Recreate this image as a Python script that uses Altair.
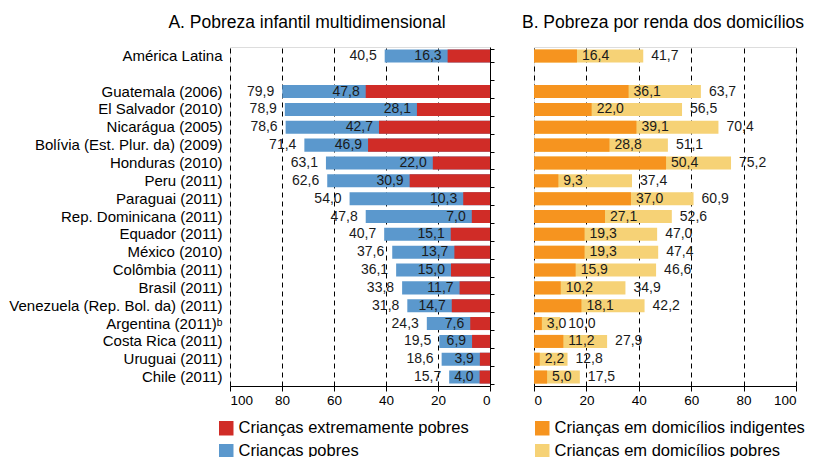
import altair as alt
import pandas as pd

FONT = "Liberation Sans"

countries = ["América Latina", "Guatemala (2006)", "El Salvador (2010)", "Nicarágua (2005)",
             "Bolívia (Est. Plur. da) (2009)", "Honduras (2010)", "Peru (2011)", "Paraguai (2011)",
             "Rep. Dominicana (2011)", "Equador (2011)", "México (2010)", "Colômbia (2011)",
             "Brasil (2011)", "Venezuela (Rep. Bol. da) (2011)", "Argentina (2011)\u1d47",
             "Costa Rica (2011)", "Uruguai (2011)", "Chile (2011)"]
order = [countries[0], " "] + countries[1:]

a_total = [40.5, 79.9, 78.9, 78.6, 71.4, 63.1, 62.6, 54.0, 47.8, 40.7, 37.6, 36.1, 33.8, 31.8, 24.3, 19.5, 18.6, 15.7]
a_extreme = [16.3, 47.8, 28.1, 42.7, 46.9, 22.0, 30.9, 10.3, 7.0, 15.1, 13.7, 15.0, 11.7, 14.7, 7.6, 6.9, 3.9, 4.0]
b_indig = [16.4, 36.1, 22.0, 39.1, 28.8, 50.4, 9.3, 37.0, 27.1, 19.3, 19.3, 15.9, 10.2, 18.1, 3.0, 11.2, 2.2, 5.0]
b_total = [41.7, 63.7, 56.5, 70.4, 51.1, 75.2, 37.4, 60.9, 52.6, 47.0, 47.4, 46.6, 34.9, 42.2, 10.0, 27.9, 12.8, 17.5]

ticks = [0, 20, 40, 60, 80, 100]

def fmt(v):
    return f"{v:.1f}".replace(".", ",")

dfA = pd.DataFrame({"pais": countries, "total": a_total, "ext": a_extreme})
dfA["tl"] = dfA["total"].map(fmt)
dfA["el"] = dfA["ext"].map(fmt)
dfB = pd.DataFrame({"pais": countries, "total": b_total, "ind": b_indig})
dfB["tl"] = dfB["total"].map(fmt)
dfB["il"] = dfB["ind"].map(fmt)

RED, BLUE, ORANGE, YELLOW = "#D02C27", "#5B98CD", "#F6941F", "#F6D276"

yscale = alt.Scale(domain=order, paddingInner=0.27, paddingOuter=0.135)

def xaxis():
    return alt.Axis(values=ticks, title=None, grid=True, gridDash=[5, 4], gridColor="#000000",
                    gridWidth=1, domainColor="#000000", tickColor="#000000", tickSize=5,
                    labelFont=FONT, labelFontSize=13.5, labelColor="#000000", labelPadding=2)

def yplain():
    return alt.Y("pais:N", sort=order, scale=yscale, axis=None, title=None)

W, H = 260, 339
LBL = 14
CLBL = 15

def legend(x):
    return alt.Legend(title=None, orient="none", legendX=x, legendY=373, symbolType="square",
                      symbolSize=210, symbolStrokeWidth=0, labelFont=FONT, labelFontSize=16.5,
                      labelColor="#000000", rowPadding=6, labelOffset=4, padding=0,
                      labelLimit=400)

# ---------- Panel A ----------
xA = alt.Scale(domain=[0, 100], reverse=True, nice=False)
baseA = alt.Chart(dfA)
SA1, SA2 = "Crianças extremamente pobres", "Crianças pobres"
colA = alt.Scale(domain=[SA1, SA2], range=[RED, BLUE])

barA1 = baseA.transform_calculate(s=f"'{SA2}'").mark_bar().encode(
    y=alt.Y("pais:N", sort=order, scale=yscale, title=None,
            axis=alt.Axis(orient="left", domain=False, ticks=False, labelFont=FONT,
                          labelFontSize=CLBL, labelColor="#000000", labelPadding=8, labelLimit=400)),
    x=alt.X("total:Q", scale=xA, axis=xaxis()),
    x2=alt.datum(0),
    color=alt.Color("s:N", scale=colA, legend=legend(-12)),
)
barA2 = baseA.transform_calculate(s=f"'{SA1}'").mark_bar().encode(
    y=alt.Y("pais:N", sort=order, scale=yscale, title=None,
            axis=alt.Axis(orient="right", labels=False, domainColor="#000000",
                          tickColor="#000000", tickSize=4, tickBand="extent", zindex=1)),
    x=alt.X("ext:Q", scale=xA),
    x2=alt.datum(0),
    color=alt.Color("s:N", scale=colA),
)
txtA1 = baseA.mark_text(align="right", dx=-8, font=FONT, fontSize=LBL, color="#1a1a1a").encode(
    y=yplain(), x=alt.X("total:Q", scale=xA), text="tl:N")
txtA2 = baseA.mark_text(align="right", dx=-6, font=FONT, fontSize=LBL, color="#1a1a1a").encode(
    y=yplain(), x=alt.X("ext:Q", scale=xA), text="el:N")

panelA = alt.layer(barA1, barA2, txtA1, txtA2).resolve_axis(y="independent").properties(
    width=W, height=H,
    title=alt.TitleParams("A. Pobreza infantil multidimensional", font=FONT, fontSize=17.5,
                          fontWeight="normal", color="#000000", anchor="middle", frame="group",
                          dx=-53, offset=16))

# ---------- Panel B ----------
xB = alt.Scale(domain=[0, 100], nice=False)
baseB = alt.Chart(dfB)
SB1, SB2 = "Crianças em domicílios indigentes", "Crianças em domicílios pobres"
colB = alt.Scale(domain=[SB1, SB2], range=[ORANGE, YELLOW])

barB1 = baseB.transform_calculate(s=f"'{SB2}'").mark_bar().encode(
    y=alt.Y("pais:N", sort=order, scale=yscale, title=None,
            axis=alt.Axis(orient="left", labels=False, domainColor="#000000",
                          tickColor="#000000", tickSize=4, tickBand="extent", zindex=1)),
    x=alt.X("total:Q", scale=xB, axis=xaxis()),
    x2=alt.datum(0),
    color=alt.Color("s:N", scale=colB, legend=legend(0)),
)
barB2 = baseB.transform_calculate(s=f"'{SB1}'").mark_bar().encode(
    y=yplain(),
    x=alt.X("ind:Q", scale=xB),
    x2=alt.datum(0),
    color=alt.Color("s:N", scale=colB),
)
txtB1 = baseB.mark_text(align="left", dx=8, font=FONT, fontSize=LBL, color="#1a1a1a").encode(
    y=yplain(), x=alt.X("total:Q", scale=xB), text="tl:N")
txtB2 = baseB.mark_text(align="left", dx=5, font=FONT, fontSize=LBL, color="#1a1a1a").encode(
    y=yplain(), x=alt.X("ind:Q", scale=xB), text="il:N")

panelB = alt.layer(barB1, barB2, txtB1, txtB2).properties(
    width=262, height=H,
    title=alt.TitleParams("B. Pobreza por renda dos domicílios", font=FONT, fontSize=17.5,
                          fontWeight="normal", color="#000000", anchor="middle", frame="group",
                          dx=-2, offset=16))

chart = alt.hconcat(panelA, panelB, spacing=26).resolve_scale(color="independent").properties(
    padding={"left": 0, "top": 5, "right": 0, "bottom": 0}
).configure_view(stroke=None).configure(background="white")

chart.save("out.html", embed_options={"renderer": "svg", "actions": False})
